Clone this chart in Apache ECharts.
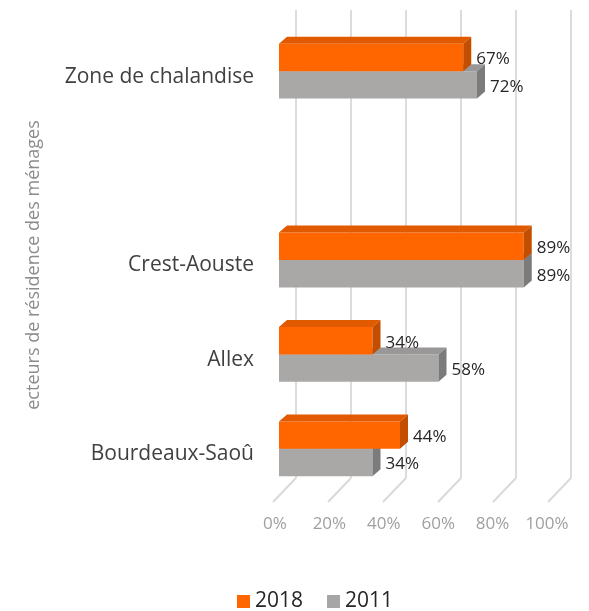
<!DOCTYPE html>
<html>
<head>
<meta charset="utf-8">
<script src="https://cdn.jsdelivr.net/npm/echarts@6/dist/echarts.min.js"></script>
<style>
  html, body { margin: 0; padding: 0; background: #fff; }
  #chart { width: 589px; height: 611px; }
</style>
</head>
<body>
<div id="chart"></div>
<script>
// catégories de bas en haut (une case vide entre Crest-Aouste et la zone)
var categories = ['Bourdeaux-Saoû', 'Allex', 'Crest-Aouste', '', 'Zone de chalandise'];
var values2018 = [44, 34, 89, null, 67];
var values2011 = [34, 58, 89, null, 72];
var tickValues = [0, 20, 40, 60, 80, 100];
var yTitle = 'ecteurs de résidence des ménages';

var DX = 8, DY = -7; // profondeur des barres

function toData(arr) {
  return arr.map(function (v, i) { return [v, i]; });
}

// barre "3D" : face avant + dessus + côté
function bar3d(colors, upper) {
  return function (params, api) {
    var v = api.value(0);
    if (v == null || isNaN(v)) return;
    var idx = api.value(1);
    var base = api.coord([0, idx]);
    var end = api.coord([v, idx]);
    var band = api.size([0, 1])[1];
    var h = band * 0.29;
    var x0 = base[0], x1 = end[0];
    var y0 = upper ? base[1] - h : base[1];
    return {
      type: 'group',
      children: [
        { type: 'rect', shape: { x: x0, y: y0, width: x1 - x0, height: h },
          style: { fill: colors[0] } },
        { type: 'polygon', shape: { points: [[x0, y0], [x1, y0], [x1 + DX, y0 + DY], [x0 + DX, y0 + DY]] },
          style: { fill: colors[1] } },
        { type: 'polygon', shape: { points: [[x1, y0], [x1 + DX, y0 + DY], [x1 + DX, y0 + h + DY], [x1, y0 + h]] },
          style: { fill: colors[2] } },
        { type: 'text', style: { text: v + '%', x: x1 + DX + 5, y: y0 + h / 2 + 2,
          fill: '#262626', fontSize: 17, fontFamily: 'Open Sans', verticalAlign: 'middle', align: 'left' } }
      ]
    };
  };
}

// lignes du plancher (perspective)
function floorLine(params, api) {
  var p = api.coord([api.value(0), 0]);
  return {
    type: 'line',
    shape: { x1: p[0], y1: p[1], x2: p[0] - 23, y2: p[1] + 24 },
    style: { stroke: '#d9d9d9', lineWidth: 2 }
  };
}

var chart = echarts.init(document.getElementById('chart'));
var option = {
  backgroundColor: '#fff',
  animation: false,
  grid: [
    { left: 279, right: 35, top: 24, bottom: 115 },   // barres
    { left: 296, right: 18, top: 10, bottom: 133 },   // plan du fond
    { left: 275, right: 42, top: 24, bottom: 115 }    // étiquettes
  ],
  xAxis: [
    { gridIndex: 0, type: 'value', min: 0, max: 100, interval: 20, show: false },
    { gridIndex: 1, type: 'value', min: 0, max: 100, interval: 20,
      axisLine: { show: false }, axisTick: { show: false }, axisLabel: { show: false },
      splitLine: { show: true, lineStyle: { color: '#dcdcdc', width: 2 } } },
    { gridIndex: 2, type: 'value', min: 0, max: 100, interval: 20,
      axisLine: { show: false }, axisTick: { show: false }, splitLine: { show: false },
      axisLabel: { formatter: '{value}%', color: '#a0a0a0', fontSize: 17, fontFamily: 'Open Sans', margin: 20 } }
  ],
  yAxis: [
    { gridIndex: 0, type: 'category', data: categories,
      axisLine: { show: false }, axisTick: { show: false }, splitLine: { show: false },
      axisLabel: { margin: 25, formatter: '{a|{value}}',
        rich: { a: { color: '#404040', fontSize: 21, fontFamily: 'Open Sans', padding: [11, 0, 0, 0] } } },
      name: yTitle, nameLocation: 'middle', nameRotate: 90, nameGap: 236,
      nameTextStyle: { color: '#8c8c8c', fontSize: 18, fontFamily: 'Open Sans', padding: [0, 10, 0, 0] } },
    { gridIndex: 1, type: 'value', min: 0, max: 1, show: false },
    { gridIndex: 2, type: 'value', min: 0, max: 1, show: false }
  ],
  legend: {
    data: ['2018', '2011'],
    left: 232, top: 586,
    icon: 'rect', itemWidth: 13, itemHeight: 13, itemGap: 24,
    textStyle: { color: '#262626', fontSize: 21, fontFamily: 'Open Sans' }
  },
  series: [
    { name: 'plancher', type: 'custom', xAxisIndex: 1, yAxisIndex: 1,
      data: tickValues.map(function (t) { return [t]; }), renderItem: floorLine, silent: true },
    { name: '2011', type: 'custom', xAxisIndex: 0, yAxisIndex: 0,
      itemStyle: { color: '#a6a6a6' },
      encode: { x: 0, y: 1 },
      data: toData(values2011), renderItem: bar3d(['#aaa7a7', '#999797', '#7b7b7b'], false) },
    { name: '2018', type: 'custom', xAxisIndex: 0, yAxisIndex: 0,
      itemStyle: { color: '#ff6600' },
      encode: { x: 0, y: 1 },
      data: toData(values2018), renderItem: bar3d(['#ff6600', '#e25a00', '#c44e00'], true) }
  ]
};
chart.setOption(option);
</script>
</body>
</html>
